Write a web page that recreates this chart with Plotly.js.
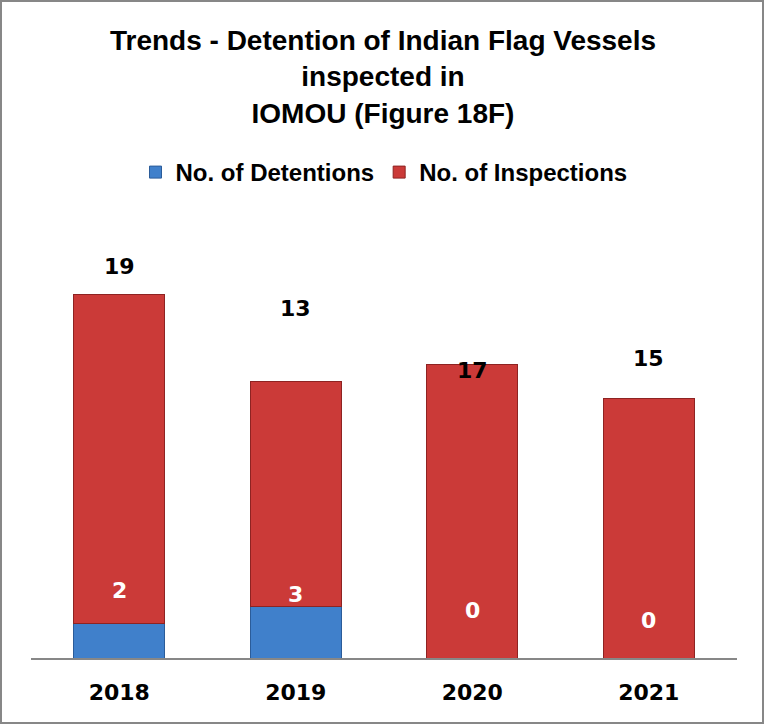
<!DOCTYPE html>
<html>
<head>
<meta charset="utf-8">
<script src="https://cdn.plot.ly/plotly-3.0.1.min.js"></script>
<style>
  html, body { margin: 0; padding: 0; background: #ffffff; }
  #wrap { position: relative; width: 766px; height: 724px; }
  #chart { position: absolute; left: 0; top: 0; width: 766px; height: 724px; }
  #frame { position: absolute; left: 0; top: 0; width: 764px; height: 724px;
           box-sizing: border-box; border: 2px solid #878787; pointer-events: none; }
</style>
</head>
<body>
<div id="wrap">
  <div id="chart"></div>
  <div id="frame"></div>
</div>
<script>
// ---- data ----
const years = ["2018", "2019", "2020", "2021"];
const detentions = [2, 3, 0, 0];
const inspections = [19, 13, 17, 15];
const seriesNames = ["No. of Detentions", "No. of Inspections"];
const titleText = "Trends - Detention of Indian Flag Vessels<br>inspected in<br>IOMOU (Figure 18F)";

// ---- label placement (style, pixel shifts relative to the stacked value) ----
const detLabelShift = [33, 12, 48, 38];
const inspLabelShift = [28, 73, -6, 40];

const RED = "#CB3A38";
const BLUE = "#4080CB";

const traces = [
  {
    type: "bar", name: seriesNames[0], x: years, y: detentions,
    marker: { color: BLUE, line: { color: "#2B5C99", width: 1 } },
    hoverinfo: "x+y"
  },
  {
    type: "bar", name: seriesNames[1], x: years, y: inspections,
    marker: { color: RED, line: { color: "#8E2322", width: 1 } },
    hoverinfo: "x+y"
  }
];

const annotations = [];
years.forEach((yr, i) => {
  annotations.push({
    x: i, y: detentions[i], xref: "x", yref: "y",
    text: String(detentions[i]), showarrow: false,
    yanchor: "middle", yshift: detLabelShift[i],
    font: { family: "DejaVu Sans", size: 22, color: "#ffffff", weight: "bold" }
  });
  annotations.push({
    x: i, y: detentions[i] + inspections[i], xref: "x", yref: "y",
    text: String(inspections[i]), showarrow: false,
    yanchor: "middle", yshift: inspLabelShift[i],
    font: { family: "DejaVu Sans", size: 22, color: "#000000", weight: "bold" }
  });
});

const layout = {
  width: 766, height: 724,
  margin: { l: 31, r: 29, t: 243, b: 66 },
  paper_bgcolor: "#ffffff", plot_bgcolor: "#ffffff",
  barmode: "stack",
  bargap: 0.484,
  title: {
    text: titleText,
    x: 0.5, xref: "container", xanchor: "center",
    y: 1 - 50 / 724, yref: "container", yanchor: "top",
    font: { family: "Liberation Sans, Arial, sans-serif", size: 28, color: "#000000", weight: "bold" }
  },
  showlegend: true,
  legend: {
    orientation: "h", traceorder: "normal",
    x: 0.5, xanchor: "center", xref: "paper",
    y: 1 - 150 / 724, yref: "container", yanchor: "top",
    font: { family: "Liberation Sans, Arial, sans-serif", size: 24, color: "#000000", weight: "bold" },
    itemwidth: 30, bgcolor: "rgba(0,0,0,0)"
  },
  xaxis: {
    type: "category",
    range: [-0.5, 3.5],
    showline: true, linecolor: "#878787", linewidth: 2,
    ticks: "", showgrid: false, zeroline: false,
    ticklabelstandoff: 14,
    tickfont: { family: "DejaVu Sans", size: 22, color: "#000000", weight: "bold" }
  },
  yaxis: {
    range: [0, 24],
    visible: false, showgrid: false, zeroline: false, showline: false, showticklabels: false
  },
  annotations: annotations
};

Plotly.newPlot("chart", traces, layout, { displayModeBar: false, staticPlot: true });
</script>
</body>
</html>
